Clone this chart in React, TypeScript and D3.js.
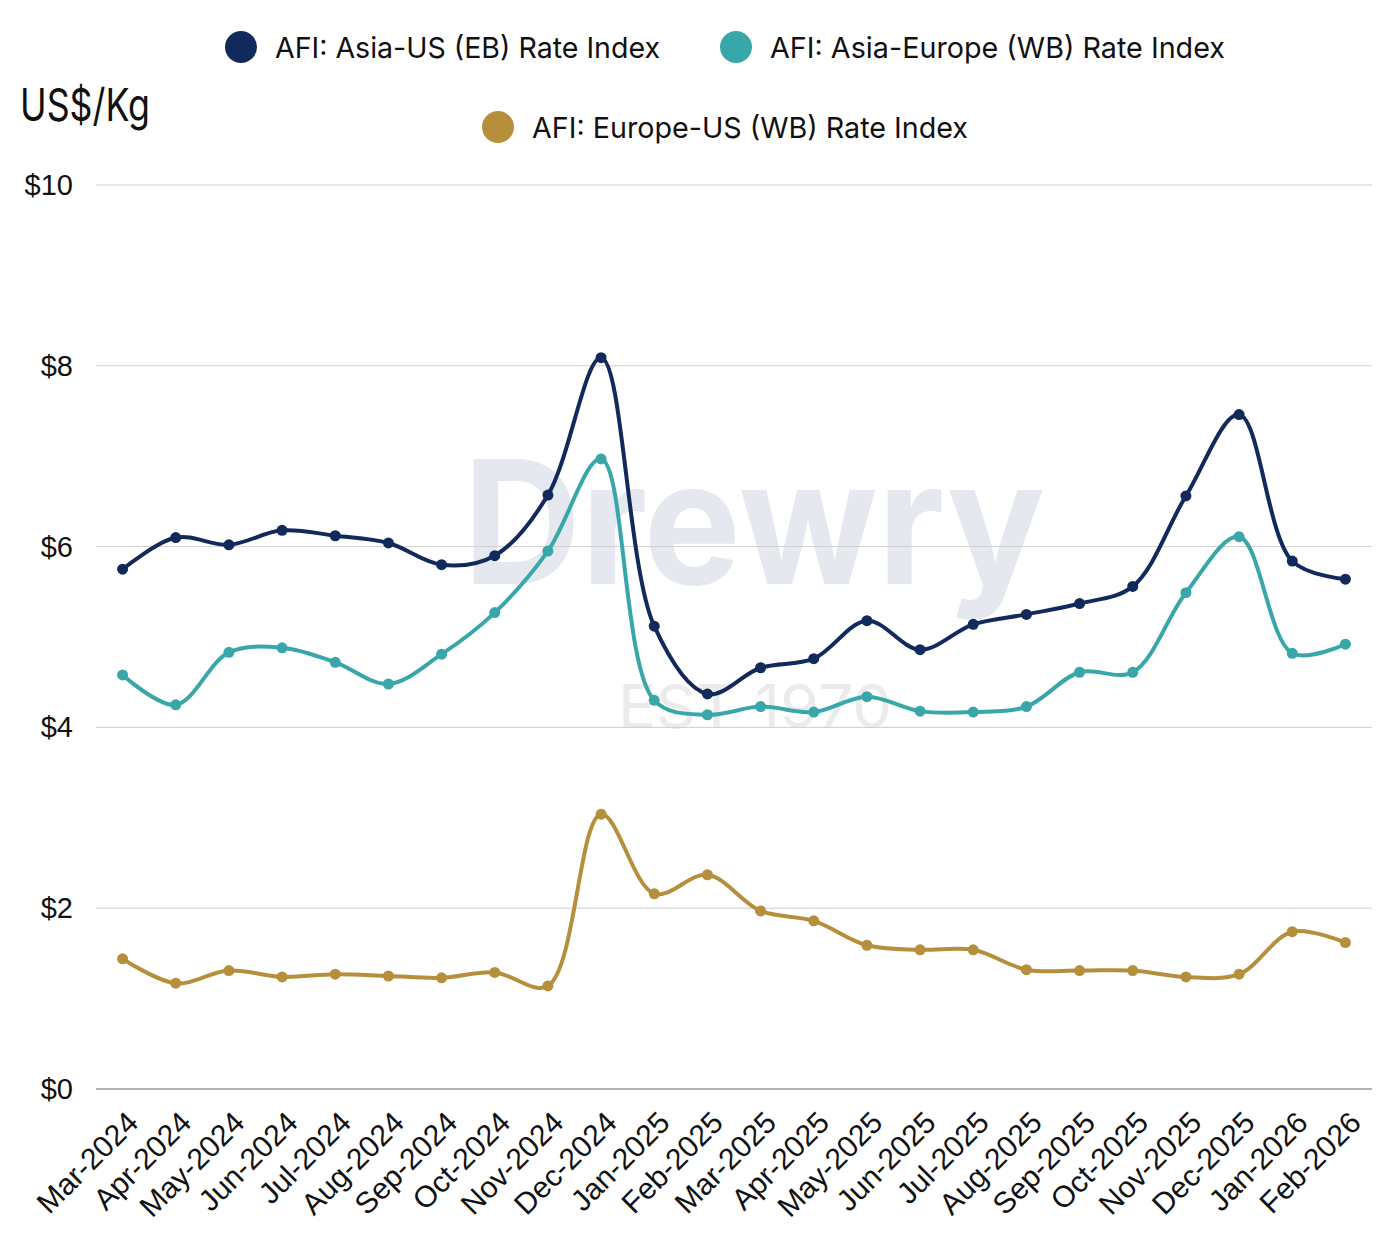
import * as d3 from "d3";

const months = [
  "Mar-2024", "Apr-2024", "May-2024", "Jun-2024", "Jul-2024", "Aug-2024",
  "Sep-2024", "Oct-2024", "Nov-2024", "Dec-2024", "Jan-2025", "Feb-2025",
  "Mar-2025", "Apr-2025", "May-2025", "Jun-2025", "Jul-2025", "Aug-2025",
  "Sep-2025", "Oct-2025", "Nov-2025", "Dec-2025", "Jan-2026", "Feb-2026",
];

const asiaUS = [
  5.75, 6.1, 6.02, 6.18, 6.12, 6.04, 5.8, 5.9, 6.57, 8.09, 5.12, 4.37,
  4.66, 4.76, 5.18, 4.86, 5.14, 5.25, 5.37, 5.56, 6.56, 7.46, 5.84, 5.64,
];

const asiaEurope = [
  4.58, 4.25, 4.83, 4.88, 4.72, 4.48, 4.81, 5.27, 5.95, 6.97, 4.3, 4.14,
  4.23, 4.17, 4.34, 4.18, 4.17, 4.23, 4.61, 4.61, 5.49, 6.11, 4.82, 4.92,
];

const europeUS = [
  1.44, 1.17, 1.31, 1.24, 1.27, 1.25, 1.23, 1.29, 1.14, 3.04, 2.16, 2.37,
  1.97, 1.86, 1.59, 1.54, 1.54, 1.32, 1.31, 1.31, 1.24, 1.27, 1.74, 1.62,
];

const yTicks = [0, 2, 4, 6, 8, 10];

const series = [
  { name: "AFI: Asia-US (EB) Rate Index", values: asiaUS, color: "#12295c" },
  { name: "AFI: Asia-Europe (WB) Rate Index", values: asiaEurope, color: "#39a7a9" },
  { name: "AFI: Europe-US (WB) Rate Index", values: europeUS, color: "#b58f3b" },
];

const font = "Inter, 'Liberation Sans', Arial, sans-serif";
const arial = "'Liberation Sans', Arial, sans-serif";

export default function App() {
  const width = 1400;
  const height = 1249;
  const left = 96;
  const right = 1372;
  const top = 185;
  const bottom = 1089;

  const x = d3.scalePoint<string>().domain(months).range([left, right]).padding(0.5);
  const y = d3.scaleLinear().domain([0, 10]).range([bottom, top]);

  const line = d3
    .line<number>()
    .x((_, i) => x(months[i]) as number)
    .y((d) => y(d))
    .curve(d3.curveCatmullRom.alpha(0.5));

  // legend placement and text widths
  const legend = [
    { s: series[0], cx: 241, cy: 47, w: 385 },
    { s: series[1], cx: 736, cy: 47, w: 455 },
    { s: series[2], cx: 498, cy: 127, w: 436 },
  ];

  return (
    <svg
      width={width}
      height={height}
      style={{ position: "absolute", left: 0, top: 0, background: "#fff" }}
      fontFamily={font}
    >
      {/* watermark */}
      <text x={754} y={584} textAnchor="middle" fontSize={172} fontWeight={700} fill="#e5e8ee" textLength={582} lengthAdjust="spacingAndGlyphs">
        Drewry
      </text>
      <text x={755} y={728} textAnchor="middle" fontSize={60} fill="#ebebeb" textLength={274} lengthAdjust="spacingAndGlyphs">
        EST 1970
      </text>

      {/* grid */}
      {yTicks.map((t) => (
        <g key={t}>
          <line
            x1={left}
            x2={right}
            y1={y(t)}
            y2={y(t)}
            stroke={t === 0 ? "#9a9a9a" : "#cfcfcf"}
            strokeWidth={t === 0 ? 1.5 : 1}
          />
          <text x={73} y={y(t)} textAnchor="end" dominantBaseline="central" fontSize={29} fill="#111" fontFamily={arial}>
            ${t}
          </text>
        </g>
      ))}

      {/* x labels */}
      {months.map((m) => (
        <text
          key={m}
          transform={`translate(${(x(m) as number) + 10},${bottom + 28}) rotate(-45)`}
          textAnchor="end"
          dominantBaseline="central"
          fontSize={30}
          fill="#111"
          fontFamily={arial}
        >
          {m}
        </text>
      ))}

      {/* lines */}
      {series.map((s) => (
        <g key={s.name}>
          <path d={line(s.values) || ""} fill="none" stroke={s.color} strokeWidth={4} />
          {s.values.map((v, i) => (
            <circle key={i} cx={x(months[i])} cy={y(v)} r={5.5} fill={s.color} />
          ))}
        </g>
      ))}

      {/* y title */}
      <text x={20} y={121} fontSize={45} fill="#111" textLength={130} lengthAdjust="spacingAndGlyphs">
        US$/Kg
      </text>

      {/* legend */}
      {legend.map((l) => (
        <g key={l.s.name}>
          <circle cx={l.cx} cy={l.cy} r={16} fill={l.s.color} />
          <text
            x={l.cx + 34}
            y={l.cy}
            dominantBaseline="central"
            fontSize={29}
            fill="#111"
            textLength={l.w}
            lengthAdjust="spacingAndGlyphs"
          >
            {l.s.name}
          </text>
        </g>
      ))}
    </svg>
  );
}
